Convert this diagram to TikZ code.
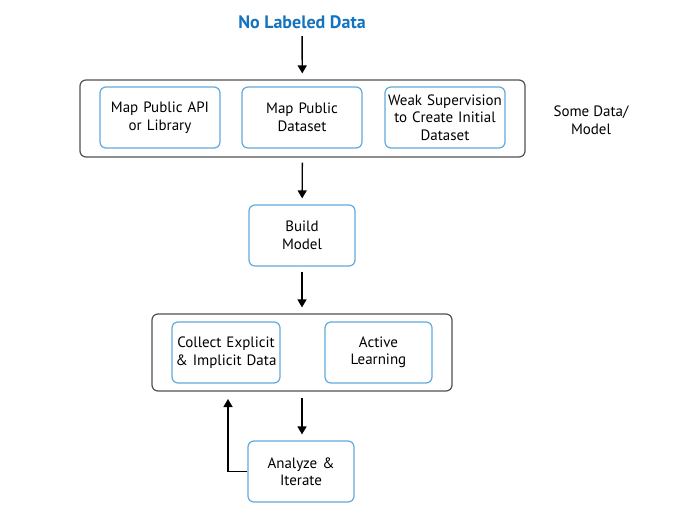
\documentclass[tikz,border=0pt]{standalone}
\usepackage{fontspec}
\setmainfont{PT Sans}
\usepackage{tikz}
\usetikzlibrary{arrows.meta}
\definecolor{boxblue}{RGB}{95,170,222}
\definecolor{titleblue}{RGB}{20,115,190}
\definecolor{framegray}{RGB}{80,80,80}
\def\groupnode{\node[draw=framegray,line width=1.2pt,rounded corners=6pt,inner sep=0pt]}
\def\stepnode{\node[draw=boxblue,line width=1.2pt,rounded corners=6pt,align=center,font=\fontsize{15}{17.5}\selectfont,text width=118pt,minimum height=61pt,inner sep=0pt]}
\def\drawflow{\draw[line width=1.4pt,-{Triangle[length=8pt,width=9pt]}]}

\begin{document}
\begin{tikzpicture}[x=1pt,y=-1pt]
\useasboundingbox (0,0) rectangle (688,506);
\node[text=titleblue,font=\bfseries\fontsize{18}{18}\selectfont] (nolabel) at (302,22) {No Labeled Data};
\groupnode[minimum width=445pt,minimum height=77pt] (someGroup) at (302.5,118.5) {};
\stepnode[minimum width=120pt] (mapApi) at (160,117.5) {Map Public API\\or Library};
\stepnode[minimum width=120pt] (mapData) at (302,117.5) {Map Public\\Dataset};
\stepnode[minimum width=120pt] (weakSup) at (445,117.5) {Weak Supervision\\to Create Initial\\Dataset};
\node[align=center,font=\fontsize{15}{17.5}\selectfont] (someLabel) at (591,120) {Some Data/\\Model};
\stepnode[minimum width=106pt,text width=100pt] (build) at (302,235.5) {Build\\Model};
\groupnode[minimum width=300pt,minimum height=77pt] (collectGroup) at (302,352.5) {};
\stepnode[minimum width=108pt,text width=106pt] (collect) at (226,352.5) {Collect Explicit\\\& Implicit Data};
\stepnode[minimum width=107pt,text width=100pt] (active) at (378.5,352.5) {Active\\Learning};
\stepnode[minimum width=106pt,text width=100pt] (analyze) at (301,471.5) {Analyze \&\\Iterate};
\coordinate (back) at (228,399);
\drawflow[shorten <=4pt,shorten >=6pt] (nolabel) -- (someGroup);
\drawflow[shorten <=5pt,shorten >=6pt] (someGroup) -- (build);
\drawflow[shorten <=5pt,shorten >=6pt] (build) -- (collectGroup);
\drawflow[shorten <=6pt,shorten >=6pt] (collectGroup.south) -- (collectGroup.south |- analyze.north);
\drawflow (analyze.west) -| (back);
\end{tikzpicture}
\end{document}
